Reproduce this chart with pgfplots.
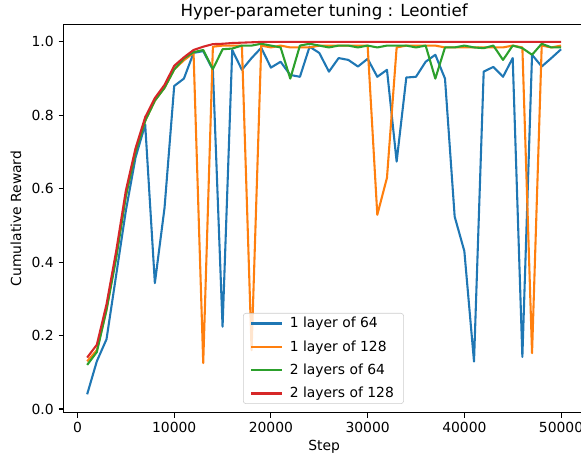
\documentclass[border=0pt]{standalone}
\usepackage{fontspec}
\setmainfont{DejaVu Sans}
\usepackage{pgfplots}
\usepackage{pgfplotstable}
\pgfplotsset{compat=1.18}

\definecolor{tabblue}{HTML}{1F77B4}
\definecolor{taborange}{HTML}{FF7F0E}
\definecolor{tabgreen}{HTML}{2CA02C}
\definecolor{tabred}{HTML}{D62728}

% columns: step, 1x64, 1x128, 2x64, 2x128
\pgfplotstableread{
step  a     b     c     d
1000  0.040 0.130 0.120 0.140
2000  0.130 0.160 0.155 0.175
3000  0.190 0.270 0.270 0.285
4000  0.365 0.420 0.410 0.430
5000  0.540 0.580 0.580 0.595
6000  0.685 0.705 0.700 0.710
7000  0.775 0.785 0.785 0.795
8000  0.343 0.840 0.840 0.847
9000  0.548 0.875 0.875 0.883
10000 0.880 0.925 0.925 0.935
11000 0.900 0.950 0.955 0.958
12000 0.970 0.970 0.972 0.978
13000 0.975 0.125 0.978 0.987
14000 0.924 0.987 0.926 0.994
15000 0.224 0.990 0.980 0.995
16000 0.978 0.990 0.982 0.997
17000 0.924 0.990 0.990 0.998
18000 0.956 0.160 0.990 0.999
19000 0.984 0.990 0.995 1.000
20000 0.930 0.985 0.990 1.000
21000 0.946 0.990 0.985 1.000
22000 0.910 0.985 0.900 1.000
23000 0.905 0.985 0.990 1.000
24000 0.987 0.985 0.995 1.000
25000 0.970 0.990 0.990 1.000
26000 0.919 0.990 0.985 1.000
27000 0.956 0.990 0.990 1.000
28000 0.951 0.990 0.990 1.000
29000 0.933 0.990 0.985 1.000
30000 0.954 0.990 0.990 1.000
31000 0.905 0.529 0.985 1.000
32000 0.924 0.630 0.990 1.000
33000 0.674 0.985 0.990 1.000
34000 0.903 0.990 0.990 1.000
35000 0.905 0.990 0.985 1.000
36000 0.946 0.990 0.990 1.000
37000 0.965 0.990 0.900 1.000
38000 0.900 0.985 0.985 1.000
39000 0.524 0.985 0.985 1.000
40000 0.430 0.985 0.990 1.000
41000 0.129 0.985 0.985 1.000
42000 0.919 0.985 0.983 1.000
43000 0.932 0.985 0.990 1.000
44000 0.905 0.985 0.951 1.000
45000 0.956 0.990 0.990 1.000
46000 0.142 0.985 0.983 1.000
47000 0.965 0.152 0.965 1.000
48000 0.933 0.990 0.995 1.000
49000 0.956 0.985 0.985 1.000
50000 0.980 0.990 0.985 1.000
}\rewards

\begin{document}
\begin{tikzpicture}
\path[use as bounding box] (0pt,0pt) rectangle (418.3pt,332.6pt);
\begin{axis}[
  at={(45.7pt,35.5pt)}, anchor=south west,
  scale only axis, width=375.3pt, height=279.6pt,
  xmin=-1450, xmax=52450, ymin=-0.0101, ymax=1.048,
  xtick={0,10000,20000,30000,40000,50000},
  ytick={0,0.2,0.4,0.6,0.8,1.0},
  scaled x ticks=false,
  x tick label style={/pgf/number format/.cd, 1000 sep={}},
  y tick label style={/pgf/number format/.cd, fixed, fixed zerofill, precision=1},
  /pgf/number format/assume math mode=true,
  tick align=outside, major tick length=3.5pt,
  tick style={line width=0.8pt, black},
  axis line style={line width=0.8pt},
  xtick pos=bottom, ytick pos=left,
  tick label style={font=\fontsize{10}{12}\selectfont},
  title={Hyper-parameter tuning : Leontief},
  every axis title/.style={font=\fontsize{12}{14}\selectfont, at={(0.5,1)}, anchor=base, inner sep=0pt, yshift=5.8pt},
  xlabel={Step},
  xlabel style={font=\fontsize{10}{12}\selectfont, at={(axis description cs:0.5,-0.0883)}, anchor=center},
  ylabel={Cumulative Reward},
  ylabel style={font=\fontsize{10}{12}\selectfont, at={(axis description cs:-0.0911,0.5)}, anchor=center},
  every axis plot/.append style={line width=1.5pt, line join=round},
  legend cell align=left,
  legend image code/.code={\draw[#1] (0pt,0pt) -- (22pt,0pt);},
  legend style={at={(0.3444,0.0224)}, anchor=south west,
    draw=black!20, fill=white, fill opacity=0.8, draw opacity=1, text opacity=1,
    rounded corners=2pt, font=\fontsize{10}{12}\selectfont,
    row sep=3.7pt, inner xsep=5pt, inner ysep=0.8pt,
    /tikz/every odd column/.append style={column sep=3pt}},
]
\addplot[tabblue] table[x=step, y=a] {\rewards};
\addlegendentry{1 layer of 64}
\addplot[taborange] table[x=step, y=b] {\rewards};
\addlegendentry{1 layer of 128}
\addplot[tabgreen] table[x=step, y=c] {\rewards};
\addlegendentry{2 layers of 64}
\addplot[tabred] table[x=step, y=d] {\rewards};
\addlegendentry{2 layers of 128}
\end{axis}
\end{tikzpicture}
\end{document}
